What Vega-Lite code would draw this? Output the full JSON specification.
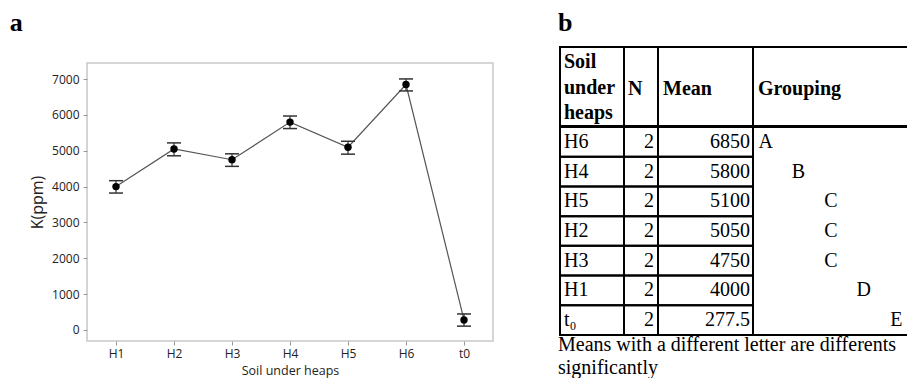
{
  "$schema": "https://vega.github.io/schema/vega-lite/v6.json",
  "padding": {"left": 9, "top": 10, "right": 0, "bottom": 0},
  "background": "white",
  "datasets": {
    "k": [
      {"soil": "H1", "label": "H1", "n": 2, "mean": 4000, "lo": 3820, "hi": 4165, "group": "D"},
      {"soil": "H2", "label": "H2", "n": 2, "mean": 5050, "lo": 4860, "hi": 5220, "group": "C"},
      {"soil": "H3", "label": "H3", "n": 2, "mean": 4750, "lo": 4565, "hi": 4915, "group": "C"},
      {"soil": "H4", "label": "H4", "n": 2, "mean": 5800, "lo": 5620, "hi": 5970, "group": "B"},
      {"soil": "H5", "label": "H5", "n": 2, "mean": 5100, "lo": 4905, "hi": 5265, "group": "C"},
      {"soil": "H6", "label": "H6", "n": 2, "mean": 6850, "lo": 6670, "hi": 7005, "group": "A"},
      {"soil": "t0", "label": "t₀", "n": 2, "mean": 277.5, "lo": 105, "hi": 445, "group": "E"}
    ]
  },
  "data": {"name": "k"},
  "spacing": 64,
  "hconcat": [
    {
      "title": {"text": "a", "anchor": "start", "frame": "bounds", "font": "Liberation Serif", "fontSize": 26, "fontWeight": "bold", "color": "black", "dx": -19, "offset": 11},
      "spacing": 0,
      "vconcat": [
        {
          "width": 406, "height": 15,
          "data": {"values": []},
          "view": {"stroke": null},
          "mark": {"type": "text"},
          "encoding": {}
        },
        {
          "width": 406,
          "height": 278,
          "view": {"stroke": "#c8c8c8", "strokeWidth": 1.5},
          "encoding": {
            "x": {
              "field": "soil", "type": "nominal",
              "sort": ["H1", "H2", "H3", "H4", "H5", "H6", "t0"],
              "scale": {"type": "point", "padding": 0.5},
              "axis": {"title": "Soil under heaps", "labelAngle": 0, "domain": false, "grid": false, "tickColor": "#999999", "tickSize": 4, "labelFont": "Open Sans", "labelFontSize": 12, "labelColor": "#222222", "labelPadding": 3, "titleFont": "Open Sans", "titleFontSize": 12.5, "titleFontWeight": "normal", "titleColor": "#222222", "titlePadding": 5}
            }
          },
          "layer": [
            {
              "mark": {"type": "line", "color": "#555555", "strokeWidth": 1.2},
              "encoding": {
                "y": {
                  "field": "mean", "type": "quantitative", "title": "K(ppm)",
                  "scale": {"domain": [-310, 7450], "nice": false, "zero": false},
                  "axis": {"values": [0, 1000, 2000, 3000, 4000, 5000, 6000, 7000], "format": "d", "labelOverlap": false, "domain": false, "grid": false, "tickColor": "#999999", "tickSize": 4, "labelFont": "Open Sans", "labelFontSize": 12, "labelColor": "#222222", "labelPadding": 4, "titleFont": "Open Sans", "titleFontSize": 16, "titleFontWeight": "normal", "titleColor": "#222222", "titlePadding": 6}
                }
              }
            },
            {
              "mark": {"type": "rule", "color": "#333333", "strokeWidth": 1.2},
              "encoding": {
                "y": {"field": "lo", "type": "quantitative", "title": "K(ppm)",
                  "axis": {"values": [0, 1000, 2000, 3000, 4000, 5000, 6000, 7000], "format": "d", "labelOverlap": false, "domain": false, "grid": false, "tickColor": "#999999", "tickSize": 4, "labelFont": "Open Sans", "labelFontSize": 12, "labelColor": "#222222", "labelPadding": 4, "titleFont": "Open Sans", "titleFontSize": 16, "titleFontWeight": "normal", "titleColor": "#222222", "titlePadding": 6}},
                "y2": {"field": "hi"}
              }
            },
            {
              "mark": {"type": "tick", "orient": "horizontal", "size": 14, "thickness": 1.5, "color": "#333333", "opacity": 1},
              "encoding": {"y": {"field": "lo", "type": "quantitative", "title": "K(ppm)",
                  "axis": {"values": [0, 1000, 2000, 3000, 4000, 5000, 6000, 7000], "format": "d", "labelOverlap": false, "domain": false, "grid": false, "tickColor": "#999999", "tickSize": 4, "labelFont": "Open Sans", "labelFontSize": 12, "labelColor": "#222222", "labelPadding": 4, "titleFont": "Open Sans", "titleFontSize": 16, "titleFontWeight": "normal", "titleColor": "#222222", "titlePadding": 6}}}
            },
            {
              "mark": {"type": "tick", "orient": "horizontal", "size": 14, "thickness": 1.5, "color": "#333333", "opacity": 1},
              "encoding": {"y": {"field": "hi", "type": "quantitative", "title": "K(ppm)",
                  "axis": {"values": [0, 1000, 2000, 3000, 4000, 5000, 6000, 7000], "format": "d", "labelOverlap": false, "domain": false, "grid": false, "tickColor": "#999999", "tickSize": 4, "labelFont": "Open Sans", "labelFontSize": 12, "labelColor": "#222222", "labelPadding": 4, "titleFont": "Open Sans", "titleFontSize": 16, "titleFontWeight": "normal", "titleColor": "#222222", "titlePadding": 6}}}
            },
            {
              "mark": {"type": "point", "filled": true, "size": 55, "color": "black", "opacity": 1},
              "encoding": {"y": {"field": "mean", "type": "quantitative", "title": "K(ppm)",
                  "axis": {"values": [0, 1000, 2000, 3000, 4000, 5000, 6000, 7000], "format": "d", "labelOverlap": false, "domain": false, "grid": false, "tickColor": "#999999", "tickSize": 4, "labelFont": "Open Sans", "labelFontSize": 12, "labelColor": "#222222", "labelPadding": 4, "titleFont": "Open Sans", "titleFontSize": 16, "titleFontWeight": "normal", "titleColor": "#222222", "titlePadding": 6}}}
            }
          ]
        }
      ]
    },
    {
      "title": {"text": "b", "anchor": "start", "font": "Liberation Serif", "fontSize": 26, "fontWeight": "bold", "color": "black", "offset": 10},
      "spacing": -2,
      "vconcat": [
        {
          "spacing": 0,
          "bounds": "flush",
          "hconcat": [
            {
              "width": 64, "height": 79,
              "data": {"values": [{"h": "Soil\nunder\nheaps"}]},
              "mark": {"type": "text", "align": "left", "baseline": "top", "dx": 4, "dy": 5, "font": "Liberation Serif", "fontSize": 20, "fontWeight": "bold", "lineBreak": "\n", "lineHeight": 25.5, "color": "black"},
              "encoding": {
                "text": {"field": "h", "type": "nominal"},
                "x": {"datum": 0, "type": "quantitative", "scale": {"domain": [0, 1]}, "axis": null},
                "y": {"datum": 1, "type": "quantitative", "scale": {"domain": [0, 1]}, "axis": null}
              }
            },
            {
              "width": 34, "height": 79,
              "data": {"values": [{"h": "N"}]},
              "mark": {"type": "text", "align": "left", "baseline": "middle", "dx": 4, "dy": 2, "font": "Liberation Serif", "fontSize": 20, "fontWeight": "bold", "color": "black"},
              "encoding": {"text": {"field": "h", "type": "nominal"}, "x": {"datum": 0, "type": "quantitative", "scale": {"domain": [0, 1]}, "axis": null}}
            },
            {
              "width": 95, "height": 79,
              "data": {"values": [{"h": "Mean"}]},
              "mark": {"type": "text", "align": "left", "baseline": "middle", "dx": 5, "dy": 2, "font": "Liberation Serif", "fontSize": 20, "fontWeight": "bold", "color": "black"},
              "encoding": {"text": {"field": "h", "type": "nominal"}, "x": {"datum": 0, "type": "quantitative", "scale": {"domain": [0, 1]}, "axis": null}}
            },
            {
              "width": 156, "height": 79,
              "data": {"values": [{"h": "Grouping"}]},
              "mark": {"type": "text", "align": "left", "baseline": "middle", "dx": 5, "dy": 2, "font": "Liberation Serif", "fontSize": 20, "fontWeight": "bold", "color": "black"},
              "encoding": {"text": {"field": "h", "type": "nominal"}, "x": {"datum": 0, "type": "quantitative", "scale": {"domain": [0, 1]}, "axis": null}}
            }
          ]
        },
        {
          "spacing": 0,
          "bounds": "flush",
          "title": {"text": ["Means with a different letter are differents", "significantly"], "orient": "bottom", "anchor": "start", "font": "Liberation Serif", "fontSize": 20, "fontWeight": "normal", "color": "black", "offset": -2, "lineHeight": 23},
          "hconcat": [
            {
              "width": 64, "height": 208,
              "encoding": {"y": {"field": "label", "type": "nominal", "sort": {"field": "mean", "order": "descending"}, "scale": {"paddingInner": 0, "paddingOuter": 0}, "axis": null}},
              "layer": [
                {"mark": {"type": "rect", "fillOpacity": 0, "stroke": "black", "strokeWidth": 2}},
                {
                  "mark": {"type": "text", "align": "left", "baseline": "middle", "dx": 4, "font": "Liberation Serif", "fontSize": 20, "color": "black"},
                  "encoding": {"text": {"field": "label", "type": "nominal"}, "x": {"datum": 0, "type": "quantitative", "scale": {"domain": [0, 1]}, "axis": null}}
                }
              ]
            },
            {
              "width": 34, "height": 208,
              "encoding": {"y": {"field": "label", "type": "nominal", "sort": {"field": "mean", "order": "descending"}, "scale": {"paddingInner": 0, "paddingOuter": 0}, "axis": null}},
              "layer": [
                {"mark": {"type": "rect", "fillOpacity": 0, "stroke": "black", "strokeWidth": 2}},
                {
                  "mark": {"type": "text", "align": "right", "baseline": "middle", "dx": -4, "font": "Liberation Serif", "fontSize": 20, "color": "black"},
                  "encoding": {"text": {"field": "n", "type": "nominal"}, "x": {"datum": 1, "type": "quantitative", "scale": {"domain": [0, 1]}, "axis": null}}
                }
              ]
            },
            {
              "width": 95, "height": 208,
              "encoding": {"y": {"field": "label", "type": "nominal", "sort": {"field": "mean", "order": "descending"}, "scale": {"paddingInner": 0, "paddingOuter": 0}, "axis": null}},
              "layer": [
                {"mark": {"type": "rect", "fillOpacity": 0, "stroke": "black", "strokeWidth": 2}},
                {
                  "mark": {"type": "text", "align": "right", "baseline": "middle", "dx": -3, "font": "Liberation Serif", "fontSize": 20, "color": "black"},
                  "encoding": {"text": {"field": "mean", "type": "nominal"}, "x": {"datum": 1, "type": "quantitative", "scale": {"domain": [0, 1]}, "axis": null}}
                }
              ]
            },
            {
              "width": 156, "height": 208,
              "mark": {"type": "text", "align": "center", "baseline": "middle", "font": "Liberation Serif", "fontSize": 20, "color": "black"},
              "encoding": {
                "y": {"field": "label", "type": "nominal", "sort": {"field": "mean", "order": "descending"}, "scale": {"paddingInner": 0, "paddingOuter": 0}, "axis": null},
                "x": {"field": "group", "type": "ordinal", "scale": {"type": "point", "domain": ["A", "B", "C", "D", "E"], "padding": 0.39}, "axis": null},
                "text": {"field": "group", "type": "nominal"}
              }
            }
          ]
        }
      ]
    }
  ],
  "config": {
    "view": {"stroke": "black", "strokeWidth": 2},
    "text": {"color": "black"}
  }
}
